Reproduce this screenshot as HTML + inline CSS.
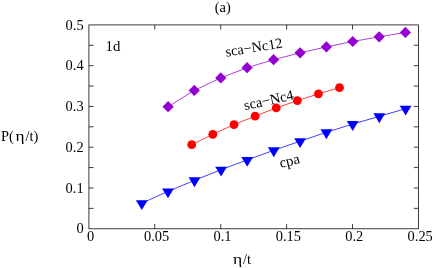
<!DOCTYPE html><html><head><meta charset="utf-8"><style>html,body{margin:0;padding:0;background:#fff}svg{display:block;will-change:transform}text{font-family:"Liberation Serif",serif;font-size:14.4px;fill:#000}</style></head><body>
<svg width="436" height="268" viewBox="0 0 436 268">
<rect width="436" height="268" fill="#fff"/>
<g>
<rect x="88.9" y="24.9" width="329.55" height="203.85" stroke="#000" stroke-width="0.9" fill="none" stroke-opacity="0.85"/>
<path d="M88.9 208.37h4.7M418.45 208.37h-4.7M88.9 187.98h4.7M418.45 187.98h-4.7M88.9 167.59h4.7M418.45 167.59h-4.7M88.9 147.21h4.7M418.45 147.21h-4.7M88.9 126.83h4.7M418.45 126.83h-4.7M88.9 106.44h4.7M418.45 106.44h-4.7M88.9 86.06h4.7M418.45 86.06h-4.7M88.9 65.67h4.7M418.45 65.67h-4.7M88.9 45.29h4.7M418.45 45.29h-4.7M154.81 228.75v-4.7M154.81 24.9v4.7M220.72 228.75v-4.7M220.72 24.9v4.7M286.63 228.75v-4.7M286.63 24.9v4.7M352.54 228.75v-4.7M352.54 24.9v4.7" stroke="#000" stroke-width="0.9" fill="none" stroke-opacity="0.85"/></g>
<polyline points="168.1,106.7 194.3,90.4 220.8,77.9 247.1,67.7 273.6,59.7 300.1,52.8 326.4,46.9 352.7,41.5 379.2,36.8 405.4,32.4" fill="none" stroke="#9400d3" stroke-width="0.75"/>
<polyline points="191.7,144.7 212.8,134.3 234.0,124.6 255.1,116.2 276.2,107.9 297.3,100.6 318.4,93.9 339.5,87.7" fill="none" stroke="#ff0000" stroke-width="0.75"/>
<polyline points="141.8,203.2 168.0,191.4 194.5,180.3 221.1,169.7 247.2,159.9 273.8,150.3 300.1,141.2 326.4,132.3 352.7,124.1 379.3,116.3 405.6,108.7" fill="none" stroke="#0000ff" stroke-width="0.75"/>
<path d="M168.1 101.1L173.7 106.7L168.1 112.3L162.5 106.7Z" fill="#9400d3"/>
<path d="M194.3 84.8L199.9 90.4L194.3 96.0L188.7 90.4Z" fill="#9400d3"/>
<path d="M220.8 72.3L226.4 77.9L220.8 83.5L215.2 77.9Z" fill="#9400d3"/>
<path d="M247.1 62.1L252.7 67.7L247.1 73.3L241.5 67.7Z" fill="#9400d3"/>
<path d="M273.6 54.1L279.2 59.7L273.6 65.3L268.0 59.7Z" fill="#9400d3"/>
<path d="M300.1 47.2L305.7 52.8L300.1 58.4L294.5 52.8Z" fill="#9400d3"/>
<path d="M326.4 41.3L332.0 46.9L326.4 52.5L320.8 46.9Z" fill="#9400d3"/>
<path d="M352.7 35.9L358.3 41.5L352.7 47.1L347.1 41.5Z" fill="#9400d3"/>
<path d="M379.2 31.2L384.8 36.8L379.2 42.4L373.6 36.8Z" fill="#9400d3"/>
<path d="M405.4 26.8L411.0 32.4L405.4 38.0L399.8 32.4Z" fill="#9400d3"/>
<circle cx="191.7" cy="144.7" r="4.4" fill="#ff0000"/>
<circle cx="212.8" cy="134.3" r="4.4" fill="#ff0000"/>
<circle cx="234.0" cy="124.6" r="4.4" fill="#ff0000"/>
<circle cx="255.1" cy="116.2" r="4.4" fill="#ff0000"/>
<circle cx="276.2" cy="107.9" r="4.4" fill="#ff0000"/>
<circle cx="297.3" cy="100.6" r="4.4" fill="#ff0000"/>
<circle cx="318.4" cy="93.9" r="4.4" fill="#ff0000"/>
<circle cx="339.5" cy="87.7" r="4.4" fill="#ff0000"/>
<path d="M135.9 200.2L147.7 200.2L141.8 210.1Z" fill="#0000ff"/>
<path d="M162.1 188.4L173.9 188.4L168.0 198.3Z" fill="#0000ff"/>
<path d="M188.6 177.3L200.4 177.3L194.5 187.2Z" fill="#0000ff"/>
<path d="M215.2 166.7L227.0 166.7L221.1 176.6Z" fill="#0000ff"/>
<path d="M241.3 156.9L253.1 156.9L247.2 166.8Z" fill="#0000ff"/>
<path d="M267.9 147.3L279.7 147.3L273.8 157.2Z" fill="#0000ff"/>
<path d="M294.2 138.2L306.0 138.2L300.1 148.1Z" fill="#0000ff"/>
<path d="M320.5 129.3L332.3 129.3L326.4 139.2Z" fill="#0000ff"/>
<path d="M346.8 121.1L358.6 121.1L352.7 131.0Z" fill="#0000ff"/>
<path d="M373.4 113.3L385.2 113.3L379.3 123.2Z" fill="#0000ff"/>
<path d="M399.7 105.7L411.5 105.7L405.6 115.6Z" fill="#0000ff"/>
<text x="83.6" y="233.3" text-anchor="end">0</text>
<text x="83.6" y="192.6" text-anchor="end">0.1</text>
<text x="83.6" y="151.8" text-anchor="end">0.2</text>
<text x="83.6" y="111.0" text-anchor="end">0.3</text>
<text x="83.6" y="70.3" text-anchor="end">0.4</text>
<text x="83.6" y="29.5" text-anchor="end">0.5</text>
<text x="90.7" y="241" text-anchor="middle">0</text>
<text x="156.6" y="241" text-anchor="middle">0.05</text>
<text x="222.5" y="241" text-anchor="middle">0.1</text>
<text x="288.4" y="241" text-anchor="middle">0.15</text>
<text x="354.3" y="241" text-anchor="middle">0.2</text>
<text x="420.2" y="241" text-anchor="middle">0.25</text>
<text x="222.8" y="12" text-anchor="middle">(a)</text>
<text x="105.6" y="50.6" style="font-size:14.8px">1d</text>
<text transform="translate(233.0,264.3) scale(1.22,1.02)">η</text><text x="243.1" y="264.4">/t</text>
<text x="1.1" y="140.8">P(</text><text transform="translate(15.5,140.7) scale(1.2,1.02)">η</text><text x="25.4" y="140.8">/t)</text>
<text transform="translate(226.2,56.7) rotate(-9.4)" style="font-size:14.4px">sca−Nc12</text>
<text transform="translate(245.1,110.3) rotate(-12.8)" style="font-size:14.4px">sca−Nc4</text>
<text transform="translate(280.7,168.0) rotate(-14)" style="font-size:14.8px">cpa</text>
</svg></body></html>
